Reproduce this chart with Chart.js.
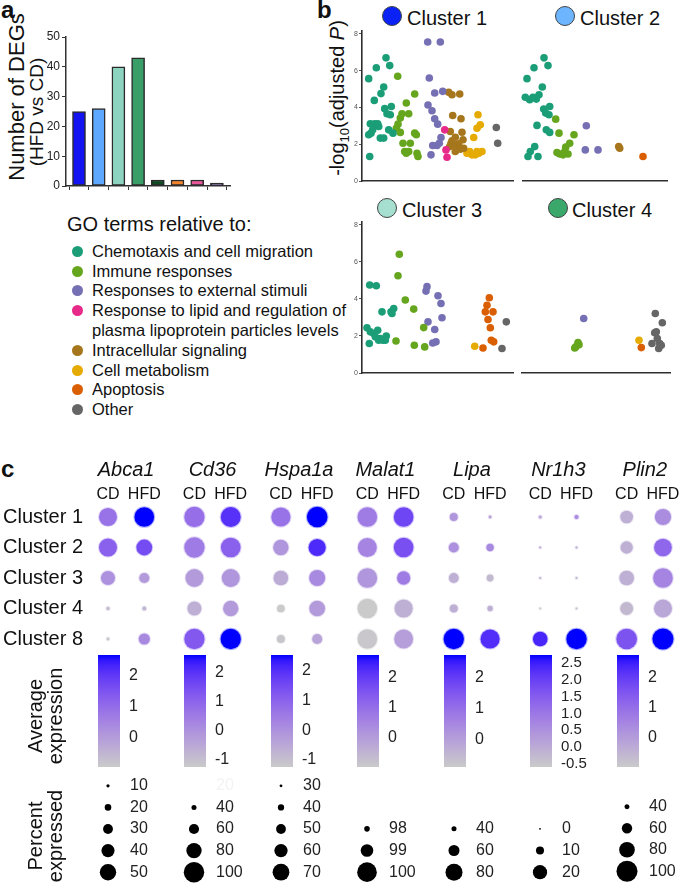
<!DOCTYPE html>
<html><head><meta charset="utf-8">
<script src="https://cdn.jsdelivr.net/npm/chart.js@4.4.1/dist/chart.umd.min.js"></script>
<style>
html,body{margin:0;padding:0;background:#fff;}
#fig{position:relative;width:685px;height:886px;overflow:hidden;background:#fff;font-family:'Liberation Sans',Arial,Helvetica,sans-serif;color:#111;}
#fig canvas{position:absolute;}
.t{position:absolute;white-space:nowrap;}
.dot{position:absolute;border-radius:50%;box-sizing:border-box;}
</style></head><body><div id="fig"></div>
<script>
// ================= DATA =================
// Panel a : number of DEGs (HFD vs CD) per cluster
const degClusters = ['Cluster 1','Cluster 2','Cluster 3','Cluster 4','Cluster 5','Cluster 6','Cluster 7','Cluster 8'];
const degCounts = [25, 26, 40, 43, 2, 2, 2, 1];

// Panel b : GO terms, points = [jitter position, -log10(adjusted P)]
const goTerms = ['Chemotaxis and cell migration','Immune responses','Responses to external stimuli',
  'Response to lipid and regulation of<br>plasma lipoprotein particles levels','Intracellular signaling',
  'Cell metabolism','Apoptosis','Other'];
const c1Chemo = [[6.7,5.56],[14.3,6.15],[24,6.69],[27.7,6.27],[21.7,5.11],[12.3,4.38],[19,4.75],[22.7,3.93],[29.3,4.05],[25,3.65],[28.3,3.6],[8.3,3.11],[12.7,3.11],[16.7,2.96],[9,2.6],[10.7,2.78],[6.7,2.51],[18.3,2.33],[21.7,2.33],[26.7,2.78],[31,2.6],[7.7,1.33],[15.7,3.11]];
const c1Immune = [[35.7,5.69],[52.7,4.73],[44.3,4.24],[40,3.65],[46.7,3.65],[38.3,3.42],[36,3.09],[34.3,2.87],[38.3,2.64],[52.7,2.6],[54.3,2.51],[41,2.05],[48.3,2.05],[42.7,1.6],[46.7,1.6],[44.3,1.51],[55,1.51],[56,1.33]];
const c1External = [[65.7,7.55],[78.3,7.55],[67.3,5.6],[72.7,4.78],[80.7,4.87],[66,4.13],[70,3.82],[72.7,3.38],[75.7,3.09],[79,2.36],[70.7,1.93],[75,1.93],[77.3,2.05],[69,1.42]];
const c1Lipid = [[82.7,2.78],[84,1.69],[85,1.29]];
const c1Signal = [[86.7,4.82],[90,4.69],[97.7,4.73],[90.7,3.56],[99,3.38],[88.3,2.69],[93.3,2.38],[100,2.65],[90,2.18],[95,1.87],[87.7,1.87],[101,2.24],[101.7,1.78],[91.7,1.96],[96.7,2.02],[93.3,1.6],[98.3,1.73],[89,2.05]];
const c1Metab = [[116,3.6],[118.3,3.05],[115,2.87],[111.7,2.36],[107.7,1.6],[110,1.42],[113.3,1.42],[116.7,1.51],[120,1.6],[105,1.51],[115,1.6]];
const c1Other = [[134.3,2.91],[135.7,2.05]];

const c2Chemo = [[4,5.56],[11,6.15],[21,6.69],[25,6.27],[19.3,5.11],[2.3,4.55],[6.7,4.42],[10,4.55],[16,4.69],[13.3,4.45],[20.7,3.91],[26.7,4.05],[22.7,3.69],[26,3.6],[14,3.02],[23.3,2.78],[26.7,2.64],[11.7,1.87],[7.3,1.6],[5,1.33],[15,1.33]];
const c2Immune = [[32.7,3.36],[36,2.6],[51,2.51],[46.7,2.05],[42.7,1.84],[41.7,1.6],[34,1.55],[36.7,1.47],[45,1.47],[40,1.42]];
const c2External = [[63.3,3.0],[62.3,1.69],[75,1.69]];
const c2Signal = [[95.7,1.87],[96.7,1.78]];
const c2Apop = [[120,1.33]];

const c3Chemo = [[7.7,4.75],[14.3,4.71],[5,2.44],[8.3,2.22],[11.7,2.13],[15.7,2.31],[13.3,1.95],[18.3,1.86],[20,3.3],[29,3.3],[31.7,3.48],[30,3.21],[23.3,1.77],[24.3,2.0],[21,1.77],[7.3,1.59],[16.7,1.77]];
const c3Immune = [[37.3,6.41],[36,5.25],[43.3,3.94],[51.7,3.45],[34,1.73],[61.7,2.45],[52.3,1.5],[62.7,1.41]];
const c3External = [[65,4.66],[64,4.42],[76,4.17],[79,3.75],[80,2.98],[66,2.76],[72.7,2.35],[74,1.68],[70.7,1.62]];
const c3Metab = [[112.7,1.44]];
const c3Apop = [[127.3,4.06],[125,3.66],[123.3,3.3],[131,3.3],[126,2.89],[128.3,2.44],[129.3,1.77],[131.7,1.68],[121,1.35]];
const c3Other = [[144.3,2.76],[140,1.32]];

const c4Immune = [[53.7,1.41],[56,1.64],[57,1.53],[52.7,1.35]];
const c4External = [[61.7,2.94]];
const c4Metab = [[117,1.77]];
const c4Apop = [[119.3,1.37]];
const c4Other = [[133.3,3.21],[140.3,2.71],[132.7,2.17],[134.3,2.22],[135.3,1.86],[130,1.59],[137.7,1.59],[136.7,1.32],[139.3,1.5]];

// Panel c : dot plot. rows = clusters, each entry [CD, HFD]
const genes = ['Abca1','Cd36','Hspa1a','Malat1','Lipa','Nr1h3','Plin2'];
const conditions = ['CD','HFD'];
const dotClusters = ['Cluster 1','Cluster 2','Cluster 3','Cluster 4','Cluster 8'];
// percent expressed
const pctAbca1  = [[55,60],[55,48],[43,31],[10,12],[9,34]];
const pctCd36   = [[99.3,98.1],[99.3,97],[90.4,90.4],[74.9,79.9],[99.3,99.3]];
const pctHspa1a = [[77,81],[66,71],[64,68],[44,67],[45,51]];
const pctMalat1 = [[100,100],[99.9,100],[100,99.1],[100,99.8],[100,99.9]];
const pctLipa   = [[50,33],[57,48],[56,46],[50,41],[91,87]];
const pctNr1h3  = [[2,3.5],[0.5,0.5],[0.5,0.5],[0,0.3],[20.5,30]];
const pctPlin2  = [[69,82],[67.4,87.6],[76.4,95],[70,88.7],[98.8,100]];
// average expression (scaled)
const expAbca1  = [[0.86,2.66],[1.22,1.65],[0.24,0.02],[-0.59,-0.52],[-0.84,0.39]];
const expCd36   = [[0.77,2.04],[0.50,1.08],[-0.2,-0.08],[-0.66,-0.2],[1.27,2.62]];
const expHspa1a = [[0.65,2.54],[-0.11,2.09],[-0.56,0.16],[-1.24,-0.22],[-1.16,-0.41]];
const expMalat1 = [[0.70,1.82],[0.52,1.63],[0.15,0.70],[-0.97,-0.41],[-0.90,-0.04]];
const expLipa   = [[0.21,-0.08],[0.32,0.47],[-0.33,-0.51],[-0.33,-0.33],[2.74,2.27]];
const expNr1h3  = [[0.07,0.64],[-0.03,-0.03],[-0.2,-0.2],[-0.6,-0.4],[2.42,2.75]];
const expPlin2  = [[-0.42,0.33],[-0.42,1.15],[-0.42,0.52],[-0.61,-0.23],[1.56,2.76]];
// colour-bar limits and size-scale limits per gene
const expRanges = [[-0.95,2.66],[-1.24,2.62],[-1.24,2.54],[-0.97,2.75],[-0.87,2.74],[-0.6,2.75],[-0.98,2.76]];
const expSteps  = [1,1,1,1,1,0.5,1];
const pctLimits = [[0,67],[20.6,105.9],[22,84.9],[97.2,100.34],[23.3,96.6],[-3,32.5],[21.3,103.7]];
// legend breaks (percent expressed)
const sizeBreaks = [[10,20,30,40,50],[20,40,60,80,100],[30,40,50,60,70],[98,99,100],[40,60,80],[0,10,20],[40,60,80,100]];

// ================= STYLE =================
const barColors = ['#1414F2','#5FA8FF','#8CD4C0','#3A9E68','#0F4A22','#F4822A','#E8559A','#5B3F8F'];
const goColors = ['#1B9E77','#66A61E','#7570B3','#E7298A','#A6761D','#E6AB02','#D95F02','#666666'];
const LOW = [202,202,202], HIGH = [0,0,255];
const DMAX = 22;           // dot diameter at upper size limit
const HFD_OFFSET = 0.42;   // column offset of HFD within a gene

Chart.defaults.animation = false;
Chart.defaults.events = [];
Chart.defaults.font.family = "'Liberation Sans', Arial, sans-serif";
Chart.defaults.plugins.legend.display = false;
Chart.defaults.plugins.tooltip.enabled = false;
Chart.defaults.layout.autoPadding = false;

const fig = document.getElementById('fig');
function mkCanvas(left, top, w, h){
  const c = document.createElement('canvas');
  c.width = w; c.height = h;
  Object.assign(c.style,{left:left+'px',top:top+'px',width:w+'px',height:h+'px'});
  fig.appendChild(c); return c;
}
function txt(html, x, y, o = {}){
  const d = document.createElement('div'); d.className = 't'; d.innerHTML = html;
  const s = d.style, size = o.size || 16;
  s.fontSize = size + 'px';
  if (o.bold) s.fontWeight = 'bold';
  if (o.italic) s.fontStyle = 'italic';
  s.lineHeight = (o.lh || Math.round(size*1.15)) + 'px';
  s.left = x + 'px'; s.top = y + 'px';
  if (o.rot) { s.transform = 'translate(-50%,-50%) rotate(-90deg)'; s.textAlign = 'center'; }
  else if (o.center) s.transform = 'translate(-50%,-50%)';
  else s.transform = 'translate(0,-50%)';
  fig.appendChild(d); return d;
}
function dot(cx, cy, d, fill, border){
  const e = document.createElement('div'); e.className = 'dot';
  Object.assign(e.style,{left:(cx-d/2)+'px',top:(cy-d/2)+'px',width:d+'px',height:d+'px',background:fill,border:border||'none'});
  fig.appendChild(e);
}

// ---- Lab colour interpolation (lightgrey -> blue) ----
const lin = c => { c/=255; return c<=0.04045 ? c/12.92 : Math.pow((c+0.055)/1.055,2.4); };
const gam = c => { c = c<=0.0031308 ? 12.92*c : 1.055*Math.pow(c,1/2.4)-0.055; return Math.round(Math.max(0,Math.min(1,c))*255); };
function toLab([r,g,b]){
  const R=lin(r),G=lin(g),B=lin(b);
  const X=(0.4124*R+0.3576*G+0.1805*B)/0.95047, Y=0.2126*R+0.7152*G+0.0722*B, Z=(0.0193*R+0.1192*G+0.9505*B)/1.08883;
  const f=t=>t>0.008856?Math.cbrt(t):7.787*t+16/116;
  return [116*f(Y)-16, 500*(f(X)-f(Y)), 200*(f(Y)-f(Z))];
}
function fromLab([L,a,b]){
  const fy=(L+16)/116, fx=fy+a/500, fz=fy-b/200;
  const fi=t=>t*t*t>0.008856?t*t*t:(t-16/116)/7.787;
  const X=fi(fx)*0.95047, Y=fi(fy), Z=fi(fz)*1.08883;
  return [gam(3.2406*X-1.5372*Y-0.4986*Z), gam(-0.9689*X+1.8758*Y+0.0415*Z), gam(0.0557*X-0.2040*Y+1.0570*Z)];
}
const LAB0 = toLab(LOW), LAB1 = toLab(HIGH);
function colorAt(t, a){
  t = Math.max(0, Math.min(1, t));
  const c = fromLab(LAB0.map((v,i)=>v+(LAB1[i]-v)*t));
  return a===undefined ? `rgb(${c[0]},${c[1]},${c[2]})` : `rgba(${c[0]},${c[1]},${c[2]},${a})`;
}
const expT = (g, v) => (v - expRanges[g][0]) / (expRanges[g][1] - expRanges[g][0]);
const sizeFrac = (g, p) => (p - pctLimits[g][0]) / (pctLimits[g][1] - pctLimits[g][0]);

// ================= PANEL a =================
txt('a', 1, 10, {size:24, bold:true, lh:24});
txt('Number of DEGs', 16.5, 97, {rot:true, size:22, lh:22});
txt('(HFD vs CD)', 37, 112, {rot:true, size:19, lh:20});
new Chart(mkCanvas(0, 0, 240, 200), {
  type:'bar',
  data:{labels:degClusters, datasets:[{data:degCounts.map((v,i)=>({x:i+1,y:v})), backgroundColor:barColors,
    borderColor:'#2b2b2b', borderWidth:1.5, borderSkipped:false, barThickness:13}]},
  options:{devicePixelRatio:1, responsive:false,
    layout:{padding:{top:37,right:10,bottom:0,left:0}},
    scales:{
      x:{type:'linear', min:0.34, max:8.665, offset:false,
         ticks:{display:false, stepSize:1, includeBounds:false},
         grid:{display:true, drawOnChartArea:false, drawTicks:true, tickLength:4, color:'#333', lineWidth:1},
         border:{display:true, color:'#333', width:1.5}, afterFit:s=>{s.height=14;}},
      y:{min:0, max:50, ticks:{stepSize:10, font:{size:12}, color:'#222', padding:2},
         grid:{drawOnChartArea:false, drawTicks:true, tickLength:4, color:'#333'},
         border:{color:'#333', width:1.5}, afterFit:s=>{s.width=66;}}
    }}
});

// ================= GO legend =================
txt('GO terms relative to:', 67, 224, {size:20, lh:22});
const goRowY = [251, 271, 290, 320, 350, 370, 389, 409];
goTerms.forEach((t,k)=>{
  const two = t.includes('<br>');
  dot(77, two ? 310 : goRowY[k], 11, goColors[k]);
  txt(t, 92, goRowY[k], {size:16.5, lh:two?20:19});
});

// ================= PANEL b =================
txt('b', 317, 10, {size:24, bold:true, lh:24});
txt('-log<sub style="font-size:13px;line-height:0">10</sub>(adjusted <i>P</i>)', 337, 98, {rot:true, size:20, lh:22});
const clusterTitleColors = ['#0A22F5','#6DB6FF','#A6DFCF','#3AA86B'];
[[392,16,407,'Cluster 1'],[565,16,580,'Cluster 2'],[387,208,402,'Cluster 3'],[558,208,572,'Cluster 4']].forEach((c,i)=>{
  dot(c[0], c[1], 20, clusterTitleColors[i], '1px solid #444');
  txt(c[3], c[2], c[1]+2, {size:20, lh:22});
});
function scatterPanel(ax, ay, aw, ah, sets, showY){
  const yW = showY ? 32 : 0, padL = showY ? 0 : 10, padT = 10, padR = 10, padB = 6;
  const cv = mkCanvas(ax - yW - padL, ay - padT, yW + padL + aw + padR, padT + ah + padB);
  new Chart(cv, {type:'scatter',
    data:{datasets: sets.map((pts,k)=>({label:goTerms[k], data:pts.map(p=>({x:p[0],y:p[1]})),
      backgroundColor:goColors[k], borderWidth:0, pointRadius:3.8, clip:false}))},
    options:{devicePixelRatio:1, responsive:false,
      layout:{padding:{left:padL, top:padT, right:padR, bottom:padB}},
      scales:{
        x:{type:'linear', min:0, max:aw, ticks:{display:false}, grid:{display:false, drawTicks:false},
           border:{display:true, color:'#2e2e2e', width:1.6}, afterFit:s=>{s.height=0;}},
        y:{display:showY, min:0, max:8.15, ticks:{stepSize:2, includeBounds:false, font:{size:7}, color:'#555', padding:1},
           grid:{drawOnChartArea:false, drawTicks:true, tickLength:3, color:'#555'},
           border:{display:true, color:'#2e2e2e', width:1.6}, afterFit:s=>{s.width=yW;}}
      }}});
}
scatterPanel(362, 31, 151, 150, [c1Chemo,c1Immune,c1External,c1Lipid,c1Signal,c1Metab,[],c1Other], true);
scatterPanel(523, 31, 144, 150, [c2Chemo,c2Immune,c2External,[],c2Signal,[],c2Apop,[]], false);
scatterPanel(362, 222, 151, 151, [c3Chemo,c3Immune,c3External,[],[],c3Metab,c3Apop,c3Other], true);
scatterPanel(522, 222, 148, 151, [[],c4Immune,c4External,[],[],c4Metab,c4Apop,c4Other], false);

// ================= PANEL c =================
txt('c', 1, 469, {size:24, bold:true, lh:24});
const pctAll = [pctAbca1,pctCd36,pctHspa1a,pctMalat1,pctLipa,pctNr1h3,pctPlin2];
const expAll = [expAbca1,expCd36,expHspa1a,expMalat1,expLipa,expNr1h3,expPlin2];
const cells = [], cellFill = [], cellEdge = [];
genes.forEach((g,gi)=>{
  dotClusters.forEach((c,ri)=>{
    conditions.forEach((cd,ci)=>{
      const p = pctAll[gi][ri][ci], v = expAll[gi][ri][ci];
      cells.push({x: gi + ci*HFD_OFFSET, y: ri, r: Math.max(1, DMAX/2*Math.max(0,Math.min(1,sizeFrac(gi,p))))});
      cellFill.push(colorAt(expT(gi,v)));
      cellEdge.push(colorAt(expT(gi,v), 0.3));
    });
  });
});
const colValues = []; genes.forEach((g,gi)=>conditions.forEach((c,ci)=>colValues.push(gi+ci*HFD_OFFSET)));
// chart area: x 90..680, y 504..653
const chartC = new Chart(mkCanvas(0, 455, 685, 198 + 14), {
  type:'bubble',
  data:{datasets:[{data:cells, backgroundColor:cellFill, borderColor:cellEdge, borderWidth:2, clip:false}]},
  options:{devicePixelRatio:1, responsive:false,
    layout:{padding:{left:3, top:0, right:5, bottom:14}},
    scales:{
      x:{type:'linear', position:'top', min:-0.208, max:6.617,
         afterBuildTicks:s=>{s.ticks = colValues.map(v=>({value:v}));},
         ticks:{callback:(v,i)=>conditions[i%2], font:{size:16}, color:'#111', padding:0, autoSkip:false, maxRotation:0},
         grid:{display:false, drawTicks:false}, border:{display:false}, afterFit:s=>{s.height=22;}},
      x2:{type:'linear', position:'top', weight:1, min:-0.208, max:6.617,
         afterBuildTicks:s=>{s.ticks = genes.map((g,i)=>({value:i+HFD_OFFSET/2}));},
         ticks:{callback:(v,i)=>genes[i], font:{size:20, style:'italic'}, color:'#111', padding:0, autoSkip:false, maxRotation:0},
         grid:{display:false, drawTicks:false}, border:{display:false}, afterFit:s=>{s.height=27;}},
      y:{type:'linear', reverse:true, min:-0.426, max:4.459,
         afterBuildTicks:s=>{s.ticks = dotClusters.map((c,i)=>({value:i}));},
         ticks:{callback:(v,i)=>dotClusters[i], font:{size:20}, color:'#111', crossAlign:'far', padding:0, autoSkip:false},
         grid:{display:false, drawTicks:false}, border:{display:false}, afterFit:s=>{s.width=87;}}
    }}
});
const cdPx = genes.map((g,gi)=>chartC.scales.x.getPixelForValue(gi));

// colour bars (chart area 655..767)
function gradientFor(chart){
  const ca = chart.chartArea; if (!ca) return '#888';
  const gr = chart.ctx.createLinearGradient(0, ca.bottom, 0, ca.top);
  for (let i=0;i<=20;i++) gr.addColorStop(i/20, colorAt(i/20));
  return gr;
}
const CB_PAD = 22;
genes.forEach((g,gi)=>{
  const [lo,hi] = expRanges[gi];
  const left = Math.round(cdPx[gi]) - 10;
  new Chart(mkCanvas(left, 655 - CB_PAD, 22+45, 112 + 2*CB_PAD), {
    type:'bar',
    data:{labels:[''], datasets:[{data:[[lo,hi]], backgroundColor:ctx=>gradientFor(ctx.chart), borderWidth:0, barPercentage:1, categoryPercentage:1}]},
    options:{devicePixelRatio:1, responsive:false,
      layout:{padding:{top:CB_PAD,bottom:CB_PAD,left:0,right:0}},
      scales:{
        x:{display:false},
        y:{position:'right', min:lo, max:hi, z:1,
           ticks:{stepSize:expSteps[gi], includeBounds:false, font:{size: expSteps[gi]<1 ? 15 : 16, lineHeight:1}, color:'#222', padding:9,
                  callback:v=> expSteps[gi]<1 ? v.toFixed(1) : String(v)},
           grid:{drawOnChartArea:true, drawTicks:false, color:'rgba(255,255,255,0.55)', lineWidth:1},
           border:{display:false, dash:[5,12]}, afterFit:s=>{s.width=45;}}
      }}
  });
});

// size legends (bottom of legend area at 882)
const ROW_H = 21.5, LG_PAD = 24;
genes.forEach((g,gi)=>{
  const br = sizeBreaks[gi], n = br.length;
  const legR = b => DMAX/2*Math.max(0, Math.min(1.2, sizeFrac(gi,b)));
  const cx = cdPx[gi];
  const areaH = n*ROW_H;
  new Chart(mkCanvas(Math.round(cx-12), Math.round(882 - areaH - LG_PAD), 24+50, Math.round(areaH + 2*LG_PAD)), {
    type:'bubble',
    data:{datasets:[{data:br.map((b,i)=>({x:0, y:i, r:legR(b)})), backgroundColor:'#000', borderWidth:0, clip:false}]},
    options:{devicePixelRatio:1, responsive:false,
      layout:{padding:{top:LG_PAD,bottom:LG_PAD,left:0,right:0}},
      scales:{
        x:{display:false, min:-1, max:1},
        y:{type:'linear', reverse:true, min:-0.5, max:n-0.5, position:'right',
           afterBuildTicks:s=>{s.ticks = br.map((b,i)=>({value:i}));},
           ticks:{callback:(v,i)=>String(br[i]), autoSkip:false, font:{size:16}, color:c=> legR(br[c.index])>0 ? '#222' : '#f3f3f3', padding:10},
           grid:{display:false, drawTicks:false}, border:{display:false}, afterFit:s=>{s.width=50;}}
      }}
  });
});

txt('Average<br>expression', 45, 716, {rot:true, size:20, lh:20});
txt('Percent<br>expressed', 45, 836, {rot:true, size:20, lh:20});
</script>
</body></html>
